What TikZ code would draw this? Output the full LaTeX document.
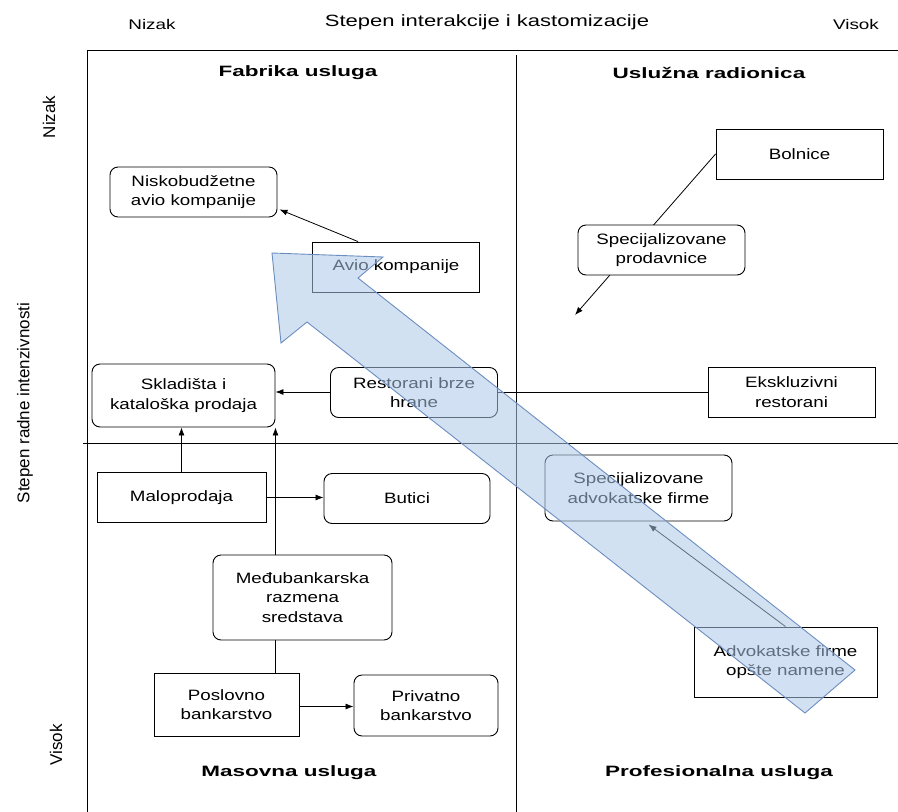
\documentclass[tikz,border=0pt]{standalone}
\usepackage{fontspec}
\setmainfont{Liberation Sans}
\newfontfamily\boxfont[FakeStretch=1.25]{Liberation Sans}
\newfontfamily\axisfont[FakeStretch=1.35]{Liberation Sans}
\newfontfamily\quadfont[FakeStretch=1.5]{Liberation Sans}
\usetikzlibrary{arrows.meta,backgrounds}
\definecolor{arrowfill}{RGB}{172,200,232}
\definecolor{arrowline}{RGB}{108,142,191}

\begin{document}
\begin{tikzpicture}[x=1pt,y=-1pt,
  box/.style={draw,fill=white,line width=0.9pt,minimum width=167pt,minimum height=50pt,inner sep=2pt,align=center,font=\boxfont\fontsize{15}{19.5}\selectfont},
  rbox/.style={box,rounded corners=8pt},
  quad/.style={font=\quadfont\bfseries\fontsize{15}{18}\selectfont},
  axis/.style={font=\axisfont\fontsize{14}{17}\selectfont},
  yaxis/.style={rotate=90,font=\fontsize{17}{20}\selectfont},
  link/.style={draw,line width=0.8pt,-{Latex[length=8pt,width=6pt]}}]
\useasboundingbox (0,0) rectangle (898,812);
\draw[line width=1pt] (87,812) -- (87,50) -- (898,50);
\draw[line width=1pt] (516,55) -- (516,812);
\draw[line width=1pt] (83,443) -- (898,443);
\node[axis] (xlow) at (152,24) {Nizak};
\node[axis,font=\axisfont\fontsize{16.3}{19}\selectfont] (xtitle) at (487,22) {Stepen interakcije i kastomizacije};
\node[axis] (xhigh) at (856,24) {Visok};
\node[yaxis] (ylow) at (49,117) {Nizak};
\node[yaxis] (ytitle) at (25,403) {Stepen radne intenzivnosti};
\node[yaxis] (yhigh) at (56,745) {Visok};
\node[quad] (fabrika) at (298,73) {Fabrika usluga};
\node[quad] (radionica) at (709,73) {Uslužna radionica};
\node[quad] (masovna) at (289,773) {Masovna usluga};
\node[quad] (profesionalna) at (719,773) {Profesionalna usluga};
\node[rbox] (nisko) at (193.5,192) {Niskobudžetne\\avio kompanije};
\node[box] (avio) at (396,267) {Avio kompanije};
\node[box] (bolnice) at (799.5,154) {Bolnice};
\node[rbox] (specprod) at (661.5,250) {Specijalizovane\\prodavnice};
\node[rbox,minimum width=183pt,minimum height=63pt] (sklad) at (183.5,395.5) {Skladišta i\\kataloška prodaja};
\node[rbox] (brze) at (414,392.5) {Restorani brze\\hrane};
\node[box] (ekskl) at (791.5,392) {Ekskluzivni\\restorani};
\node[box,minimum width=169pt] (malo) at (181.5,497.5) {Maloprodaja};
\node[rbox,minimum width=166pt] (butici) at (407,498.5) {Butici};
\node[rbox,minimum width=179pt,minimum height=85pt] (medju) at (302.5,597.5) {Međubankarska\\razmena\\sredstava};
\node[box,minimum width=145pt,minimum height=63pt] (poslovno) at (226.5,704.5) {Poslovno\\bankarstvo};
\node[rbox,minimum width=144pt,minimum height=61pt] (privatno) at (426,705.5) {Privatno\\bankarstvo};
\node[rbox,minimum width=187pt,minimum height=66pt] (specadv) at (638.5,488) {Specijalizovane\\advokatske firme};
\node[box,minimum width=183pt,minimum height=70pt] (advopst) at (785.5,662) {Advokatske firme\\opšte namene};
\coordinate (specend) at (575,315);
\coordinate (bankup) at ([xshift=49pt]poslovno.north);
\begin{scope}[on background layer]
\draw[link] ([xshift=-38pt]avio.north) -- ([xshift=2pt,yshift=8pt]nisko.south east);
\draw[link] (bolnice.west) -- (specend);
\draw[link] (ekskl.west) -- (sklad.east |- ekskl.west);
\draw[link] (malo.east) -- (malo.east -| butici.west);
\draw[link] (malo.north) -- (malo.north |- sklad.south);
\draw[link] (bankup) -- (bankup |- sklad.south);
\draw[link] ([yshift=-2pt]poslovno.east) -- ([yshift=-2pt]poslovno.east -| privatno.west);
\draw[link] (advopst.north) -- ([xshift=10pt,yshift=-3pt]specadv.south);
\end{scope}
\draw[arrowline,fill=arrowfill,fill opacity=0.55,line width=0.9pt] (272,253) -- (383,257) -- (358,278) -- (855,670) -- (805,713) -- (307,322) -- (281,343) -- cycle;
\end{tikzpicture}
\end{document}
